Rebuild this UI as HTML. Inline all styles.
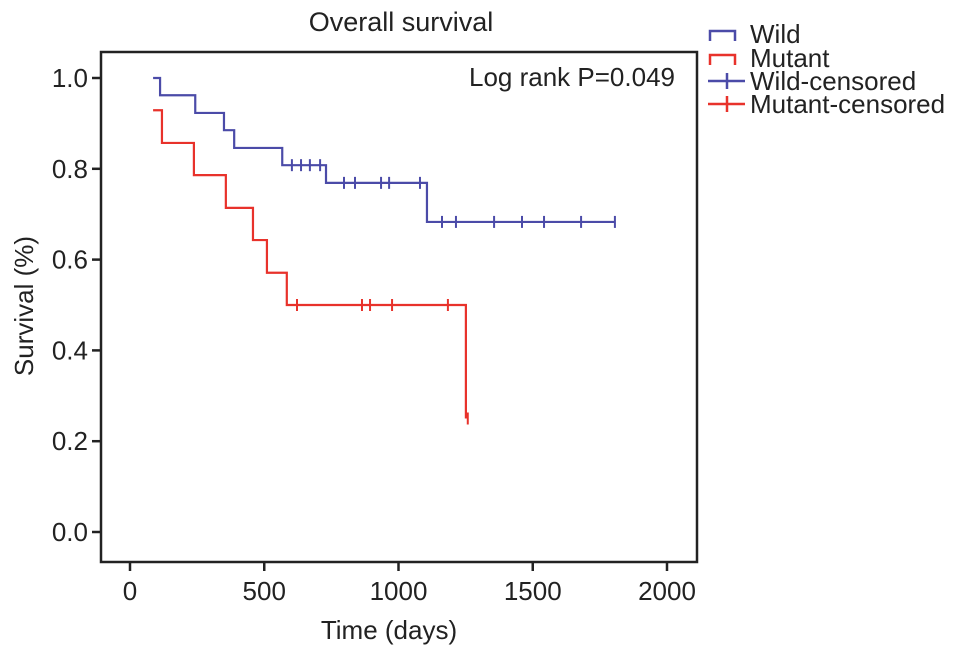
<!DOCTYPE html>
<html><head><meta charset="utf-8"><style>
body{margin:0;background:#fff;}
svg{display:block;font-family:"Liberation Sans",Arial,sans-serif;}
</style></head><body>
<svg id="chart" width="969" height="654" viewBox="0 0 969 654">
<text x="401" y="31" font-size="27" text-anchor="middle" fill="#222">Overall survival</text>
<rect x="101" y="52" width="596" height="510" fill="none" stroke="#222" stroke-width="2.5"/>
<g id="xaxis"></g>
<g id="yaxis"></g>
<text x="389" y="639" font-size="26" text-anchor="middle" fill="#222">Time (days)</text>
<text transform="translate(33,306) rotate(-90)" font-size="26" text-anchor="middle" fill="#222">Survival (%)</text>
<text x="675" y="86" font-size="26" text-anchor="end" fill="#222">Log rank P=0.049</text>
<g id="series"></g>
<g>
<g><path d="M710,41 V31 H735 V41" fill="none" stroke="#4b4ba8" stroke-width="2.5"/><text x="750" y="43" font-size="26" fill="#222">Wild</text></g>
<g><path d="M710,65 V55 H735 V65" fill="none" stroke="#e8322b" stroke-width="2.5"/><text x="750" y="67" font-size="26" fill="#222">Mutant</text></g>
<g><path d="M708,81 H745 M727,73 V89" fill="none" stroke="#4b4ba8" stroke-width="2.5"/><text x="750" y="90" font-size="26" fill="#222">Wild-censored</text></g>
<g><path d="M708,104 H745 M727,96 V112" fill="none" stroke="#e8322b" stroke-width="2.5"/><text x="750" y="113" font-size="26" fill="#222">Mutant-censored</text></g>
</g>
</svg>
<script>
const xTicks=[0,500,1000,1500,2000];
const yTicks=[0.0,0.2,0.4,0.6,0.8,1.0];
const wildTimes=[86,112,243,350,388,567,730,1106,1806];
const wildSurv=[1.0,0.962,0.923,0.885,0.846,0.808,0.769,0.683,0.683];
const wildCensor=[603,637,670,708,797,838,935,965,1080,1162,1214,1356,1460,1542,1680,1806];
const mutTimes=[86,119,238,357,458,510,584,1251];
const mutSurv=[0.929,0.857,0.786,0.714,0.643,0.571,0.5,0.25];
const mutCensor=[622,864,894,976,1184,1258];
const NS='http://www.w3.org/2000/svg';
const X=t=>130+t*0.2685;
const Y=s=>532-s*454;
function mk(tag,attrs,parent){const e=document.createElementNS(NS,tag);for(const k in attrs)e.setAttribute(k,attrs[k]);parent.appendChild(e);return e;}
const xa=document.getElementById('xaxis'),ya=document.getElementById('yaxis'),sg=document.getElementById('series');
xTicks.forEach(v=>{
 const l=mk('line',{x1:X(v),x2:X(v),y1:562,y2:571,stroke:'#222','stroke-width':2.5},xa);
 
 
 const t=mk('text',{x:X(v),y:600,'font-size':26,'text-anchor':'middle',fill:'#222'},xa);
 t.textContent=v;
 
 
});
yTicks.forEach(v=>{
 const l=mk('line',{x1:92,x2:101,y1:Y(v),y2:Y(v),stroke:'#222','stroke-width':2.5},ya);
 
 
 const t=mk('text',{x:88,y:Y(v)+9,'font-size':26,'text-anchor':'end',fill:'#222'},ya);
 t.textContent=v.toFixed(1);
 
 
});
function stepPath(times,surv){
 let d='M'+X(times[0])+','+Y(surv[0]);
 for(let i=1;i<times.length;i++){d+=' H'+X(times[i])+' V'+Y(surv[i]);}
 return d;
}
function survAt(times,surv,t){let s=surv[0];for(let i=0;i<times.length;i++){if(times[i]<=t)s=surv[i];}return s;}
function draw(times,surv,cens,color,name){
 const p=mk('path',{d:stepPath(times,surv),fill:'none',stroke:color,'stroke-width':2.2},sg);
 
 
 cens.forEach(t=>{
  const s=survAt(times,surv,t);
  const c=mk('path',{d:'M'+X(t)+','+(Y(s)-6)+' V'+(Y(s)+6),stroke:color,'stroke-width':2},sg);
  
  
 });
}
draw(wildTimes,wildSurv,wildCensor,'#4b4ba8','wild');
draw(mutTimes,mutSurv,mutCensor,'#e8322b','mutant');
</script>
</body></html>
